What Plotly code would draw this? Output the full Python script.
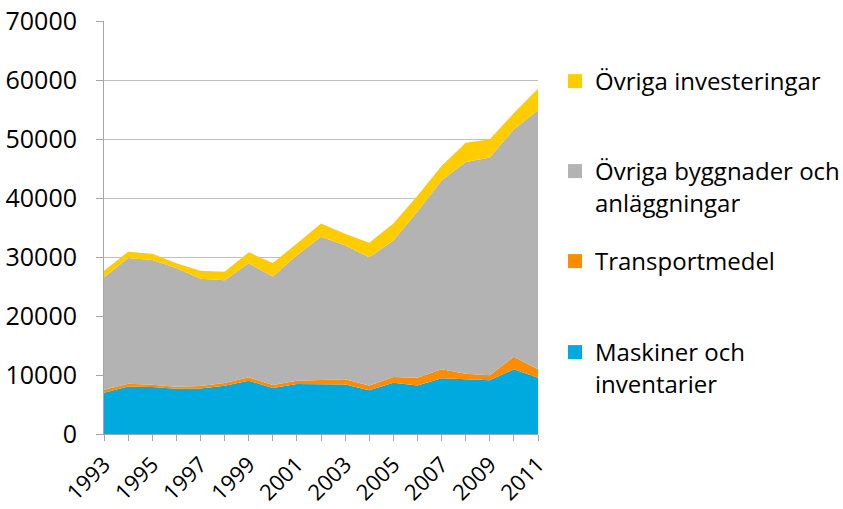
import plotly.graph_objects as go

years = list(range(1993, 2012))
maskiner = [7000, 8070, 7950, 7670, 7730, 8180, 9030, 7780, 8470, 8450, 8400, 7430, 8690, 8230, 9430, 9260, 9090, 10970, 9540]
transport = [500, 450, 400, 340, 400, 460, 570, 520, 560, 650, 860, 800, 970, 1310, 1540, 970, 850, 2120, 1430]
byggnader = [19030, 21310, 21140, 20115, 18175, 17440, 19320, 18400, 21270, 24330, 22740, 21710, 23140, 28160, 32000, 35880, 36920, 38570, 43890]
ovriga = [1140, 1070, 1080, 800, 1370, 1420, 1880, 2280, 2000, 2230, 1940, 2460, 2860, 2700, 2460, 3260, 3080, 2740, 3640]

names = ["Maskiner och<br>inventarier", "Transportmedel", "Övriga byggnader och<br>anläggningar", "Övriga investeringar"]
colors = ["#00AADF", "#FF8C00", "#B3B3B3", "#FFCC00"]
series = [maskiner, transport, byggnader, ovriga]
legend_ids = ["legend4", "legend3", "legend2", "legend"]
legend_tops = [351, 260, 170, 80]  # marker centre, px

W, H = 843, 509
FONT = "Open Sans"
FS_AX = 25
FS_X = 22
FS_LEG = 24

fig = go.Figure()
for name, col, vals, lid in zip(names, colors, series, legend_ids):
    fig.add_trace(go.Scatter(
        x=years, y=vals, stackgroup="one", mode="lines",
        line=dict(width=0, color=col), fillcolor=col,
        showlegend=False, hoverinfo="x+y+name", name=name.replace("<br>", " ")))
    fig.add_trace(go.Scatter(
        x=[None], y=[None], mode="markers",
        marker=dict(symbol="square", size=14, color=col),
        name=name, legend=lid, showlegend=True))

tick_text = [str(y) if (y - 1993) % 2 == 0 else "" for y in years]

layout_legends = {}
for lid, cy in zip(legend_ids, legend_tops):
    layout_legends[lid] = dict(
        xref="container", yref="container",
        x=555 / W, y=1 - (cy - 21) / H, xanchor="left", yanchor="top",
        valign="top", bgcolor="rgba(0,0,0,0)",
        font=dict(family=FONT, size=FS_LEG, color="#000000"),
    )

fig.update_layout(
    width=W, height=H,
    margin=dict(l=104, r=W - 538, t=21, b=H - 434, autoexpand=False),
    paper_bgcolor="white", plot_bgcolor="white",
    font=dict(family=FONT, size=FS_AX, color="#000000"),
    **layout_legends,
)
fig.update_xaxes(
    range=[1993, 2011], tickvals=years, ticktext=tick_text, tickangle=-45,
    showgrid=False, showline=True, linecolor="#A6A6A6", linewidth=1,
    ticks="outside", ticklen=6, tickcolor="#A6A6A6",
    tickfont=dict(family=FONT, size=FS_X, color="#000000"),
    ticklabelstandoff=2,
)
fig.update_yaxes(
    range=[0, 70000], dtick=10000, tickformat="d",
    showgrid=True, gridcolor="#C0C0C0", gridwidth=1,
    showline=True, linecolor="#A6A6A6", linewidth=1,
    ticks="outside", ticklen=7, tickcolor="#A6A6A6",
    tickfont=dict(family=FONT, size=FS_AX, color="#000000"),
    ticklabelstandoff=14,
    zeroline=False,
)

fig.write_html(
    "out.html",
    config={"displayModeBar": False},
    post_script="document.body.style.margin='0';document.body.style.overflow='hidden';",
)
